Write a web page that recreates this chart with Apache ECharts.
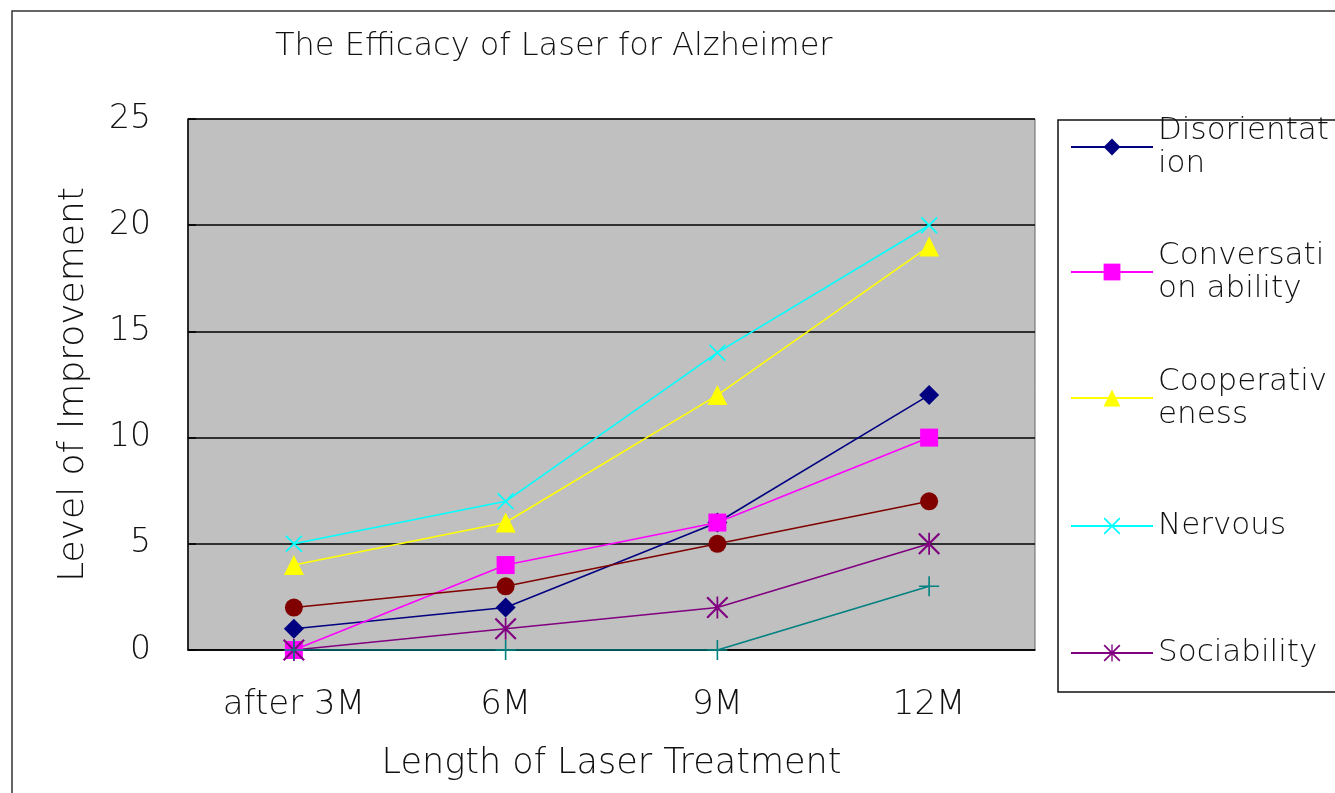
<!DOCTYPE html>
<html>
<head>
<meta charset="utf-8">
<script src="https://cdn.jsdelivr.net/npm/echarts@6/dist/echarts.min.js"></script>
<style>
  html, body { margin: 0; padding: 0; background: #ffffff; }
  #chart { width: 1335px; height: 793px; }
</style>
</head>
<body>
<div id="chart"></div>
<script>
// Treatment periods and improvement scores
const categories = ['after 3M', '6M', '9M', '12M'];
const disorientation = [1, 2, 6, 12];
const conversation = [0, 4, 6, 10];
const cooperativeness = [4, 6, 12, 19];
const nervous = [5, 7, 14, 20];
const series5 = [2, 3, 5, 7];
const sociability = [0, 1, 2, 5];
const series7 = [0, 0, 0, 3];
const yTicks = [0, 5, 10, 15, 20, 25];

// Wrapped legend texts
const legendLabels = {
  'Disorientation': 'Disorientat\nion',
  'Conversation ability': 'Conversati\non ability',
  'Cooperativeness': 'Cooperativ\neness',
  'Nervous': 'Nervous',
  'Sociability': 'Sociability'
};

const FONT = '"DejaVu Sans", "Noto Sans", sans-serif';
const WEIGHT = 200;

// Stroke-style marker shapes built from thin bars
const SYM_X = 'path://M-10,-8.6L-8.6,-10L10,8.6L8.6,10Z M8.6,-10L10,-8.6L-8.6,10L-10,8.6Z';
const SYM_PLUS = 'path://M-0.8,-10L0.8,-10L0.8,10L-0.8,10Z M-10,-0.8L10,-0.8L10,0.8L-10,0.8Z';
const SYM_STAR = 'path://M-10,-8.6L-8.6,-10L10,8.6L8.6,10Z M8.6,-10L10,-8.6L-8.6,10L-10,8.6Z M-0.8,-10L0.8,-10L0.8,10L-0.8,10Z';

function lineSeries(name, data, color, symbol, size) {
  return {
    name: name,
    type: 'line',
    data: data,
    symbol: symbol,
    symbolSize: size,
    showAllSymbol: true,
    lineStyle: { color: color, width: 1.6 },
    itemStyle: { color: color },
    emphasis: { disabled: true }
  };
}

const chart = echarts.init(document.getElementById('chart'), null, { renderer: 'canvas' });

// One legend block per entry; icon sits beside the first text line
const LEG_ITEM_H = 21;
const LEG_LINE_H = 33;
const legendRows = [
  { name: 'Disorientation', y: 147, lines: 2 },
  { name: 'Conversation ability', y: 272, lines: 2 },
  { name: 'Cooperativeness', y: 398, lines: 2 },
  { name: 'Nervous', y: 526, lines: 1 },
  { name: 'Sociability', y: 653, lines: 1 }
];
const legends = legendRows.map(function (r) {
  const two = r.lines === 2;
  return {
    left: 1070,
    top: two ? r.y - 1.5 * LEG_LINE_H : r.y - Math.max(LEG_ITEM_H, LEG_LINE_H) / 2,
    padding: 0,
    orient: 'vertical',
    data: [r.name],
    selectedMode: false,
    itemWidth: 82,
    itemHeight: LEG_ITEM_H,
    z: 10,
    formatter: function (n) { return legendLabels[n]; },
    textStyle: {
      fontFamily: FONT,
      fontWeight: WEIGHT,
      fontSize: 31,
      color: '#111',
      lineHeight: LEG_LINE_H,
      padding: two ? [LEG_LINE_H, 0, 0, 0] : 0
    }
  };
});

const option = {
  animation: false,
  backgroundColor: '#ffffff',
  textStyle: { fontFamily: FONT },
  title: {
    text: 'The Efficacy of Laser for Alzheimer',
    left: 275,
    top: 31,
    padding: 0,
    textStyle: { fontFamily: FONT, fontSize: 32, fontWeight: WEIGHT, color: '#111' }
  },
  graphic: [
    {
      type: 'rect', z: -10, silent: true,
      shape: { x: 12, y: 11, width: 1400, height: 900 },
      style: { fill: '#ffffff', stroke: '#333', lineWidth: 1.5 }
    },
    {
      type: 'rect', z: 1, silent: true,
      shape: { x: 1058, y: 120, width: 400, height: 572 },
      style: { fill: '#ffffff', stroke: '#111', lineWidth: 1.5 }
    }
  ],
  legend: legends,
  grid: {
    left: 188, top: 119, width: 847, height: 531,
    show: true,
    backgroundColor: '#C0C0C0',
    borderColor: '#666',
    borderWidth: 1
  },
  xAxis: {
    type: 'category',
    data: categories,
    boundaryGap: true,
    name: 'Length of Laser Treatment',
    nameLocation: 'middle',
    nameGap: 96,
    nameTextStyle: { fontFamily: FONT, fontWeight: WEIGHT, fontSize: 35, color: '#111' },
    axisLine: { lineStyle: { color: '#000', width: 1.5 } },
    axisTick: { inside: true, length: 10, lineStyle: { color: '#000', width: 1.5 } },
    axisLabel: { fontFamily: FONT, fontWeight: WEIGHT, fontSize: 34, color: '#111', margin: 38 },
    splitLine: { show: false }
  },
  yAxis: {
    type: 'value',
    min: yTicks[0],
    max: yTicks[yTicks.length - 1],
    interval: yTicks[1] - yTicks[0],
    name: 'Level of Improvement',
    nameLocation: 'middle',
    nameGap: 96,
    nameRotate: 90,
    nameTextStyle: { fontFamily: FONT, fontWeight: WEIGHT, fontSize: 36, color: '#111' },
    axisLine: { show: true, lineStyle: { color: '#000', width: 1.5 } },
    axisTick: { show: true, inside: true, length: 8, lineStyle: { color: '#000', width: 1.5 } },
    axisLabel: { fontFamily: FONT, fontWeight: WEIGHT, fontSize: 33, color: '#111', margin: 37 },
    splitLine: { show: true, lineStyle: { color: '#000', width: 1.5 } }
  },
  series: [
    lineSeries('Disorientation', disorientation, '#000080', 'diamond', 20),
    lineSeries('Conversation ability', conversation, '#FF00FF', 'rect', 18),
    lineSeries('Cooperativeness', cooperativeness, '#FFFF00', 'triangle', 20),
    lineSeries('Nervous', nervous, '#00FFFF', SYM_X, 17),
    lineSeries('Series 5', series5, '#800000', 'circle', 18),
    lineSeries('Sociability', sociability, '#800080', SYM_STAR, 22),
    lineSeries('Series 7', series7, '#008080', SYM_PLUS, 20)
  ]
};

chart.setOption(option);
</script>
</body>
</html>
